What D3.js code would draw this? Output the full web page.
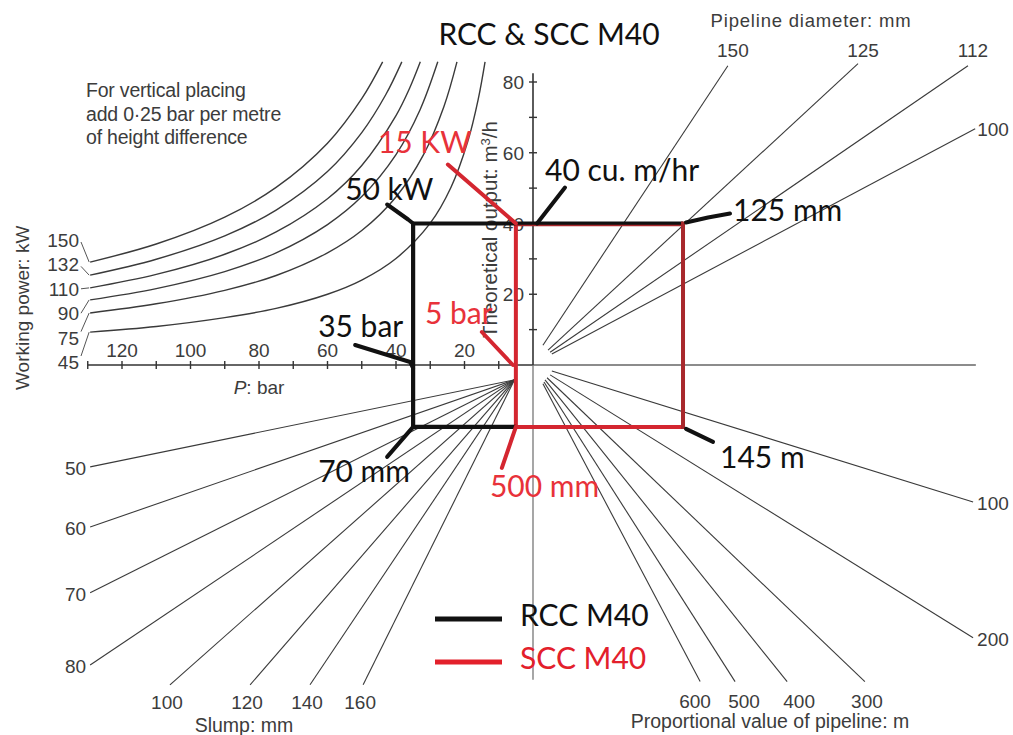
<!DOCTYPE html>
<html><head><meta charset="utf-8">
<script src="https://cdn.jsdelivr.net/npm/d3@7/dist/d3.min.js"></script>
<style>
body{margin:0;background:#fff}
svg{display:block}
.nomo{font-family:"Liberation Sans",Arial,sans-serif;fill:#3c3c3c}
.ann{font-family:Lato,"Open Sans",sans-serif}
</style>
</head><body>
<svg id="c" width="1013" height="735"></svg>
<script>
// ---------------- DATA ----------------
const title = "RCC & SCC M40";
const pressureTicks = [120, 100, 80, 60, 40, 20];
const outputTicks = [20, 40, 60, 80];
const powerLabels = ["150", "132", "110", "90", "75", "45"];
// working-power curves read as (P bar, Q m3/h) points
const power150 = [[129.3,29.1],[110,34.2],[90,41.8],[75,50.2],[60,62.7],[50,75.3],[43.9,85.7]];
const power132 = [[129.3,25.4],[110,29.9],[90,36.5],[75,43.8],[60,54.7],[50,65.7],[43,76.4],[38.3,85.7]];
const power110 = [[129.3,21.8],[110,25.6],[90,31.3],[75,37.6],[60,47.0],[50,56.4],[40,70.5],[36,78.3],[32.9,85.7]];
const power90  = [[129.3,18.4],[110,21.6],[90,26.4],[75,31.7],[60,39.7],[50,47.6],[40,59.5],[33,72.1],[27.8,85.7]];
const power75  = [[129.3,14.7],[110,17.3],[90,21.1],[75,25.3],[60,31.7],[50,38.0],[40,47.5],[32,59.4],[26,73.1],[22.2,85.7]];
const power45  = [[129.3,9.3],[110,10.9],[90,13.4],[75,16.0],[60,20.0],[50,24.0],[40,30.1],[30,40.1],[24,50.1],[19,63.3],[16,75.1],[14,85.7]];
const powerCurves = [power150, power132, power110, power90, power75, power45];

// pipeline diameter fan (upper right), chart units (P-equivalent, Q-equivalent)
const diameterLabels = ["150", "125", "112", "100"];
const diameterStarts = [[-2.9,5.6],[-4.4,4.2],[-5.0,3.6],[-5.5,3.1]];
const diameterEnds   = [[-56.9,84.6],[-94.9,85.2],[-127.0,84.6],[-129.1,66.8]];

// proportional pipeline length fan (lower right)
const lengthLabels = ["100", "200", "300", "400", "500", "600"];
const lengthStarts = [[-5.5,-1.7],[-5.0,-2.8],[-4.1,-3.6],[-3.5,-4.2],[-3.2,-4.8],[-2.9,-5.3]];
const lengthEnds   = [[-128.5,-38.7],[-128.5,-77.1],[-96.9,-89.5],[-74.2,-89.5],[-59.0,-89.5],[-48.8,-89.5]];
const lengthLabelAt = [null, null, -97.5, -77.7, -61.6, -47.3];

// slump fan (lower left)
const slumpLabels = ["50", "60", "70", "80", "100", "120", "140", "160"];
const slumpStart = [5.4, -4.2];
const slumpEnds = [[129.3,-28.8],[129.3,-45.8],[129.3,-64.4],[129.3,-84.8],[106,-90.4],[82.6,-90.4],[65.1,-90.4],[49.6,-90.4]];

// design steps (RCC and SCC)
const stepOutput = 40;          // m3/h
const rccPressure = 35;         // bar
const sccPressure = 5;          // bar
const diameterLevel = -43.8;    // 125 mm line at 40 m3/h
const lengthLevel = -17.5;      // 145 m level
const annTexts  = ["50 kW","15 KW","40 cu. m/hr","125 mm","35 bar","5 bar","70 mm","500 mm","145 m"];
const annColors = ["#111","#e8323a","#111","#111","#111","#e8323a","#111","#e8323a","#111"];
const legendNames = ["RCC M40", "SCC M40"];
const legendColors = ["#111", "#e3202b"];

// ---------------- DRAW ----------------
const svg = d3.select("#c");
const x = d3.scaleLinear().domain([0, 120]).range([533, 122]);
const y = d3.scaleLinear().domain([0, 80]).range([365, 82]);
const P = d => [x(d[0]), y(d[1])];
const ink = "#3a3a3a";

const g = svg.append("g");

// axes
g.append("line").attr("x1", x(130)).attr("x2", x(0)).attr("y1", y(0)).attr("y2", y(0))
  .attr("stroke", "#333").attr("stroke-width", 1.6);
g.append("line").attr("x1", x(0)).attr("x2", x(-129.3)).attr("y1", y(0)).attr("y2", y(0))
  .attr("stroke", "#666").attr("stroke-width", 1.3);
g.append("line").attr("x1", x(0)).attr("x2", x(0)).attr("y1", y(0)).attr("y2", y(82.5))
  .attr("stroke", "#333").attr("stroke-width", 1.6);
g.append("line").attr("x1", x(0)).attr("x2", x(0)).attr("y1", y(0)).attr("y2", y(-89))
  .attr("stroke", "#777").attr("stroke-width", 1.3);

g.selectAll(".pt").data(d3.range(10, 131, 10)).join("line")
  .attr("x1", d => x(d)).attr("x2", d => x(d)).attr("y1", y(0) - 4).attr("y2", y(0) + 4)
  .attr("stroke", "#333").attr("stroke-width", 1.4);
g.selectAll(".ptl").data(pressureTicks).join("text").attr("class", "nomo")
  .attr("x", d => x(d)).attr("y", y(0) - 8).attr("text-anchor", "middle")
  .attr("font-size", 19).text(d => d);
g.append("text").attr("class", "nomo").attr("x", x(80)).attr("y", y(0) + 29)
  .attr("text-anchor", "middle").attr("font-size", 19)
  .html('<tspan font-style="italic">P</tspan>: bar');

g.selectAll(".qt").data(d3.range(10, 81, 10)).join("line")
  .attr("x1", x(0) - 4).attr("x2", x(0) + 4).attr("y1", d => y(d)).attr("y2", d => y(d))
  .attr("stroke", "#333").attr("stroke-width", 1.4);
g.selectAll(".qtl").data(outputTicks).join("text").attr("class", "nomo")
  .attr("x", x(0) - 9).attr("y", d => y(d) + 7).attr("text-anchor", "end")
  .attr("font-size", 19).text(d => d);
g.append("text").attr("class", "nomo").attr("font-size", 20.5)
  .attr("transform", `translate(${x(0) - 36},${y(0) - 27}) rotate(-90)`)
  .html('Theoretical output: m<tspan baseline-shift="super" font-size="13">3</tspan>/h');

// working power curves
const curveLine = d3.line().x(d => x(d[0])).y(d => y(d[1])).curve(d3.curveCatmullRom);
g.selectAll(".pc").data(powerCurves).join("path")
  .attr("d", curveLine).attr("fill", "none").attr("stroke", ink).attr("stroke-width", 1.4);
const labY0 = 240, labStep = 24.4;
powerLabels.forEach((t, i) => {
  const ly = labY0 + i * labStep;
  g.append("text").attr("class", "nomo").attr("x", 79).attr("y", ly + 7)
    .attr("text-anchor", "end").attr("font-size", 19).text(t);
  const c0 = powerCurves[i][0];
  g.append("line").attr("x1", 81).attr("y1", ly + (i < 2 ? 2 : (i > 3 ? -6 : 0)))
    .attr("x2", x(c0[0]) - 1).attr("y2", y(c0[1]))
    .attr("stroke", "#555").attr("stroke-width", 1);
});
g.append("text").attr("class", "nomo").attr("font-size", 19)
  .attr("transform", "translate(29,390) rotate(-90)").text("Working power: kW");
["For vertical placing", "add 0·25 bar per metre", "of height difference"].forEach((t, i) => {
  g.append("text").attr("class", "nomo").attr("x", 86).attr("y", 97 + i * 23.5)
    .attr("font-size", 19.5).attr("letter-spacing", -0.2).text(t);
});

// fans
const seg = (a, b) => `M${P(a)}L${P(b)}`;
g.selectAll(".df").data(diameterEnds).join("path")
  .attr("d", (d, i) => seg(diameterStarts[i], d)).attr("stroke", ink).attr("stroke-width", 1.1).attr("fill", "none");
diameterLabels.forEach((t, i) => {
  const e = P(diameterEnds[i]);
  if (i < 3) g.append("text").attr("class", "nomo").attr("x", e[0] + 5).attr("y", 57)
    .attr("text-anchor", "middle").attr("font-size", 19).text(t);
  else g.append("text").attr("class", "nomo").attr("x", e[0] + 2).attr("y", e[1] + 7)
    .attr("font-size", 19).text(t);
});
g.append("text").attr("class", "nomo").attr("x", 811).attr("y", 27).attr("text-anchor", "middle")
  .attr("font-size", 18.5).attr("letter-spacing", 0.8).text("Pipeline diameter: mm");

g.selectAll(".lf").data(lengthEnds).join("path")
  .attr("d", (d, i) => seg(lengthStarts[i], d)).attr("stroke", ink).attr("stroke-width", 1.1).attr("fill", "none");
lengthLabels.forEach((t, i) => {
  const e = P(lengthEnds[i]);
  if (i < 2) g.append("text").attr("class", "nomo").attr("x", e[0] + 4).attr("y", e[1] + 8)
    .attr("font-size", 19).text(t);
  else g.append("text").attr("class", "nomo").attr("x", x(lengthLabelAt[i])).attr("y", 708)
    .attr("text-anchor", "middle").attr("font-size", 19).text(t);
});
g.append("text").attr("class", "nomo").attr("x", 770).attr("y", 728).attr("text-anchor", "middle")
  .attr("font-size", 19.5).text("Proportional value of pipeline: m");

g.selectAll(".sf").data(slumpEnds).join("path")
  .attr("d", d => seg(slumpStart, d)).attr("stroke", ink).attr("stroke-width", 1.1).attr("fill", "none");
slumpLabels.forEach((t, i) => {
  const e = P(slumpEnds[i]);
  if (i < 4) g.append("text").attr("class", "nomo").attr("x", e[0] - 4).attr("y", e[1] + 8)
    .attr("text-anchor", "end").attr("font-size", 19).text(t);
  else g.append("text").attr("class", "nomo").attr("x", e[0] - 3).attr("y", 709)
    .attr("text-anchor", "middle").attr("font-size", 19).text(t);
});
g.append("text").attr("class", "nomo").attr("x", 244).attr("y", 732).attr("text-anchor", "middle")
  .attr("font-size", 19.5).text("Slump: mm");

// ---------------- design path ----------------
const a = svg.append("g");
const X = {rcc: x(rccPressure), scc: x(sccPressure), axis: x(0), right: x(diameterLevel)};
const Y = {top: y(stepOutput), axis: y(0), bottom: y(lengthLevel)};
const red = "#d42630", darkRed = "#a8282c";
// red SCC rectangle
a.append("path").attr("d", `M${X.scc},${Y.top}V${Y.bottom}H${X.right}`)
  .attr("stroke", red).attr("stroke-width", 4).attr("fill", "none");
// black RCC lines
a.append("path").attr("d", `M${X.rcc},${Y.bottom}V${Y.top}H${X.right}`)
  .attr("stroke", "#111").attr("stroke-width", 4.2).attr("fill", "none");
a.append("path").attr("d", `M${X.rcc},${Y.bottom}H${X.scc}`)
  .attr("stroke", "#111").attr("stroke-width", 4.2).attr("fill", "none");
a.append("path").attr("d", `M${X.scc},${Y.top + 2}H${X.right}`)
  .attr("stroke", darkRed).attr("stroke-width", 1.5).attr("fill", "none");
a.append("path").attr("d", `M${X.right},${Y.top - 2}V${Y.bottom + 2}`)
  .attr("stroke", darkRed).attr("stroke-width", 4).attr("fill", "none");

// annotation anchors and pointers
const anchors = [[X.rcc,Y.top],[X.scc,Y.top],[X.axis,Y.top],[X.right,Y.top],[X.rcc,Y.axis],[X.scc,Y.axis],[X.rcc,Y.bottom],[X.scc,Y.bottom],[X.right,Y.bottom]];
const pointers = [
  [[0,0],[-5,-4],[-26,-19]],
  [[0,0],[-68,-59]],
  [[4,0],[32,-36]],
  [[3,-1],[25,-6],[47,-10]],
  [[0,3],[-3,-3],[-58,-20]],
  [[-3,0],[-34,-33]],
  [[0,0],[-26,30]],
  [[0,0],[-14,41]],
  [[3,2],[30,15]]
];
const textOff = [[-68,-24],[-138,-71],[12,-43],[50,-3],[-95,-28],[-91,-41],[-95,55],[-26,70],[37,41]];
annTexts.forEach((t, i) => {
  const [ax, ay] = anchors[i];
  a.append("path").attr("d", d3.line()(pointers[i].map(p => [ax + p[0], ay + p[1]])))
    .attr("stroke", annColors[i] === "#111" ? "#111" : red).attr("stroke-width", 4)
    .attr("fill", "none").attr("stroke-linecap", "round").attr("stroke-linejoin", "round");
  a.append("text").attr("class", "ann").attr("x", ax + textOff[i][0]).attr("y", ay + textOff[i][1])
    .attr("font-size", 30).attr("fill", annColors[i]).text(t);
});

// title
svg.append("text").attr("class", "ann").attr("x", 549).attr("y", 45).attr("text-anchor", "middle")
  .attr("font-size", 30).attr("fill", "#111").text(title);

// legend
legendNames.forEach((n, i) => {
  const ly = 619 + i * 43;
  svg.append("line").attr("x1", 435).attr("x2", 502).attr("y1", ly).attr("y2", ly)
    .attr("stroke", legendColors[i]).attr("stroke-width", 5);
  svg.append("text").attr("class", "ann").attr("x", 520).attr("y", ly + 7)
    .attr("font-size", 30).attr("fill", legendColors[i]).text(n);
});
</script>
</body></html>
